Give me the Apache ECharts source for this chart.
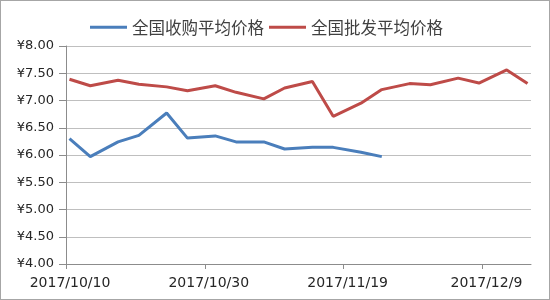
<!DOCTYPE html>
<html>
<head>
<meta charset="utf-8">
<script src="https://cdn.jsdelivr.net/npm/echarts@6/dist/echarts.min.js"></script>
<style>
html,body{margin:0;padding:0;background:#fff;}
#chart{width:550px;height:300px;box-sizing:border-box;border:1px solid #a6a6a6;}
</style>
</head>
<body>
<div id="chart"></div>
<script>
// Data
var seriesNames = ['全国收购平均价格', '全国批发平均价格'];
var dates = ['2017/10/10','2017/10/13','2017/10/17','2017/10/20','2017/10/24','2017/10/27',
  '2017/10/31','2017/11/3','2017/11/7','2017/11/10','2017/11/14','2017/11/17','2017/11/21',
  '2017/11/24','2017/11/28','2017/12/1','2017/12/5','2017/12/8','2017/12/12','2017/12/15'];
var purchasePrice = [6.30, 5.97, 6.24, 6.36, 6.77, 6.31, 6.35, 6.24, 6.24, 6.11, 6.14, 6.14, 6.05, 5.97];
var wholesalePrice = [7.39, 7.27, 7.37, 7.30, 7.25, 7.18, 7.27, 7.15, 7.03, 7.23, 7.35, 6.71, 6.95, 7.20,
  7.31, 7.29, 7.41, 7.32, 7.56, 7.31];
var xTickLabels = ['2017/10/10','2017/10/30','2017/11/19','2017/12/9'];
var xRange = ['2017/10/10', '2017/12/16'];
var yTickLabels = ['¥4.00','¥4.50','¥5.00','¥5.50','¥6.00','¥6.50','¥7.00','¥7.50','¥8.00'];

var DAY = 24 * 3600 * 1000;
function parseDate(s) {
  var p = s.split('/');
  return Date.UTC(+p[0], +p[1] - 1, +p[2]);
}
var t0 = parseDate(xRange[0]);
function dayOf(s) { return Math.round((parseDate(s) - t0) / DAY); }
// Excel date axis: each point sits in the middle of its day
function toPoints(vals) {
  return vals.map(function (v, i) { return [dayOf(dates[i]) + 0.5, v]; });
}
function fmtDay(d) {
  var dt = new Date(t0 + Math.round(d) * DAY);
  return dt.getUTCFullYear() + '/' + (dt.getUTCMonth() + 1) + '/' + dt.getUTCDate();
}
var yVals = yTickLabels.map(function (s) { return parseFloat(s.replace('¥', '')); });
var xTickDays = xTickLabels.map(dayOf);

var chart = echarts.init(document.getElementById('chart'), null, {renderer: 'canvas'});
var textColor = '#404040';
chart.setOption({
  animation: false,
  backgroundColor: '#ffffff',
  textStyle: {fontFamily: 'DejaVu Sans, "Noto Sans CJK SC", sans-serif'},
  legend: {
    left: 84,
    top: 13,
    icon: 'rect',
    itemWidth: 37,
    itemHeight: 3,
    itemGap: 5,
    textStyle: {fontSize: 16.5, color: textColor, fontFamily: '"Noto Sans CJK SC", sans-serif'},
    data: seriesNames
  },
  grid: {left: 65, right: 18, top: 45, bottom: 35, containLabel: false},
  xAxis: {
    type: 'value',
    min: 0,
    max: dayOf(xRange[1]),
    interval: 20,
    axisLine: {show: true, lineStyle: {color: '#8c8c8c', width: 1}},
    axisTick: {show: true, length: 5, lineStyle: {color: '#8c8c8c'}, customValues: xTickDays},
    axisLabel: {
      customValues: xTickDays,
      formatter: function (v) { return fmtDay(v); },
      fontSize: 14,
      color: '#262626',
      margin: 12,
      padding: [0, 0, 0, 8],
      hideOverlap: false
    },
    splitLine: {show: false}
  },
  yAxis: {
    type: 'value',
    min: yVals[0],
    max: yVals[yVals.length - 1],
    interval: 0.5,
    axisLine: {show: true, lineStyle: {color: '#8c8c8c', width: 1}},
    axisTick: {show: true, length: 7, lineStyle: {color: '#8c8c8c'}},
    axisLabel: {
      fontSize: 13,
      color: '#262626',
      margin: 12,
      formatter: function (v) { return '¥' + v.toFixed(2); }
    },
    splitLine: {show: true, lineStyle: {color: '#bfbfbf', width: 1}}
  },
  series: [
    {
      name: seriesNames[0],
      type: 'line',
      data: toPoints(purchasePrice),
      showSymbol: false,
      symbol: 'none',
      lineStyle: {color: '#4a7ebb', width: 3},
      itemStyle: {color: '#4a7ebb'}
    },
    {
      name: seriesNames[1],
      type: 'line',
      data: toPoints(wholesalePrice),
      showSymbol: false,
      symbol: 'none',
      lineStyle: {color: '#be4b48', width: 3},
      itemStyle: {color: '#be4b48'}
    }
  ]
});
</script>
</body>
</html>
